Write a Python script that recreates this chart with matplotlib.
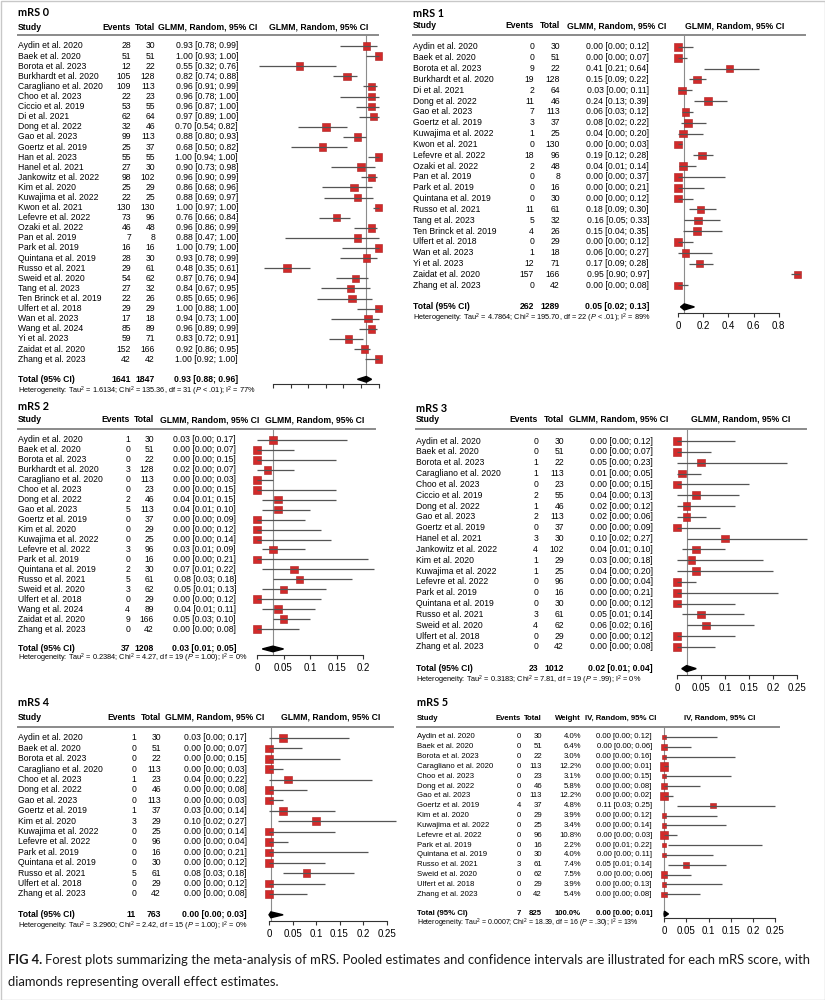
import numpy as np
import matplotlib.pyplot as plt
from matplotlib.transforms import blended_transform_factory
from matplotlib.patches import Rectangle

plt.rcParams['font.family'] = ['Liberation Sans', 'DejaVu Sans']
plt.rcParams['mathtext.fontset'] = 'custom'
plt.rcParams['mathtext.rm'] = 'Liberation Sans'
plt.rcParams['mathtext.it'] = 'Liberation Sans:italic'
plt.rcParams['mathtext.bf'] = 'Liberation Sans:bold'

# ---------------- data ----------------
# mRS 0
studies0 = ["Aydin et al. 2020", "Baek et al. 2020", "Borota et al. 2023", "Burkhardt et al. 2020",
            "Caragliano et al. 2020", "Choo et al. 2023", "Ciccio et al. 2019", "Di et al. 2021",
            "Dong et al. 2022", "Gao et al. 2023", "Goertz et al. 2019", "Han et al. 2023",
            "Hanel et al. 2021", "Jankowitz et al. 2022", "Kim et al. 2020", "Kuwajima et al. 2022",
            "Kwon et al. 2021", "Lefevre et al. 2022", "Ozaki et al. 2022", "Pan et al. 2019",
            "Park et al. 2019", "Quintana et al. 2019", "Russo et al. 2021", "Sweid et al. 2020",
            "Tang et al. 2023", "Ten Brinck et al. 2019", "Ulfert et al. 2018", "Wan et al. 2023",
            "Wang et al. 2024", "Yi et al. 2023", "Zaidat et al. 2020", "Zhang et al. 2023"]
events0 = [28, 51, 12, 105, 109, 22, 53, 62, 32, 99, 25, 55, 27, 98, 25, 22,
           130, 73, 46, 7, 16, 28, 29, 54, 27, 22, 29, 17, 85, 59, 152, 42]
totals0 = [30, 51, 22, 128, 113, 23, 55, 64, 46, 113, 37, 55, 30, 102, 29, 25,
           130, 96, 48, 8, 16, 30, 61, 62, 32, 26, 29, 18, 89, 71, 166, 42]
est0 = [0.93, 1.00, 0.55, 0.82, 0.96, 0.96, 0.96, 0.97, 0.70, 0.88, 0.68, 1.00, 0.90, 0.96, 0.86, 0.88,
        1.00, 0.76, 0.96, 0.88, 1.00, 0.93, 0.48, 0.87, 0.84, 0.85, 1.00, 0.94, 0.96, 0.83, 0.92, 1.00]
lo0 = [0.78, 0.93, 0.32, 0.74, 0.91, 0.78, 0.87, 0.89, 0.54, 0.80, 0.50, 0.94, 0.73, 0.90, 0.68, 0.69,
       0.97, 0.66, 0.86, 0.47, 0.79, 0.78, 0.35, 0.76, 0.67, 0.65, 0.88, 0.73, 0.89, 0.72, 0.86, 0.92]
hi0 = [0.99, 1.00, 0.76, 0.88, 0.99, 1.00, 1.00, 1.00, 0.82, 0.93, 0.82, 1.00, 0.98, 0.99, 0.96, 0.97,
       1.00, 0.84, 0.99, 1.00, 1.00, 0.99, 0.61, 0.94, 0.95, 0.96, 1.00, 1.00, 0.99, 0.91, 0.95, 1.00]
pooled0 = [0.93, 0.88, 0.96]
het0 = "Tau$^2$ = 1.6134; Chi$^2$ = 135.36, df = 31 ($P$ < .01); I$^2$ = 77%"

# mRS 1
studies1 = ["Aydin et al. 2020", "Baek et al. 2020", "Borota et al. 2023", "Burkhardt et al. 2020",
            "Di et al. 2021", "Dong et al. 2022", "Gao et al. 2023", "Goertz et al. 2019",
            "Kuwajima et al. 2022", "Kwon et al. 2021", "Lefevre et al. 2022", "Ozaki et al. 2022",
            "Pan et al. 2019", "Park et al. 2019", "Quintana et al. 2019", "Russo et al. 2021",
            "Tang et al. 2023", "Ten Brinck et al. 2019", "Ulfert et al. 2018", "Wan et al. 2023",
            "Yi et al. 2023", "Zaidat et al. 2020", "Zhang et al. 2023"]
events1 = [0, 0, 9, 19, 2, 11, 7, 3, 1, 0, 18, 2, 0, 0, 0, 11, 5, 4, 0, 1, 12, 157, 0]
totals1 = [30, 51, 22, 128, 64, 46, 113, 37, 25, 130, 96, 48, 8, 16, 30, 61, 32, 26, 29, 18, 71, 166, 42]
est1 = [0.00, 0.00, 0.41, 0.15, 0.03, 0.24, 0.06, 0.08, 0.04, 0.00, 0.19, 0.04,
        0.00, 0.00, 0.00, 0.18, 0.16, 0.15, 0.00, 0.06, 0.17, 0.95, 0.00]
lo1 = [0.00, 0.00, 0.21, 0.09, 0.00, 0.13, 0.03, 0.02, 0.00, 0.00, 0.12, 0.01,
       0.00, 0.00, 0.00, 0.09, 0.05, 0.04, 0.00, 0.00, 0.09, 0.90, 0.00]
hi1 = [0.12, 0.07, 0.64, 0.22, 0.11, 0.39, 0.12, 0.22, 0.20, 0.03, 0.28, 0.14,
       0.37, 0.21, 0.12, 0.30, 0.33, 0.35, 0.12, 0.27, 0.28, 0.97, 0.08]
pooled1 = [0.05, 0.02, 0.13]
het1 = "Tau$^2$ = 4.7864; Chi$^2$ = 195.70, df = 22 ($P$ < .01); I$^2$ = 89%"

# mRS 2
studies2 = ["Aydin et al. 2020", "Baek et al. 2020", "Borota et al. 2023", "Burkhardt et al. 2020",
            "Caragliano et al. 2020", "Choo et al. 2023", "Dong et al. 2022", "Gao et al. 2023",
            "Goertz et al. 2019", "Kim et al. 2020", "Kuwajima et al. 2022", "Lefevre et al. 2022",
            "Park et al. 2019", "Quintana et al. 2019", "Russo et al. 2021", "Sweid et al. 2020",
            "Ulfert et al. 2018", "Wang et al. 2024", "Zaidat et al. 2020", "Zhang et al. 2023"]
events2 = [1, 0, 0, 3, 0, 0, 2, 5, 0, 0, 0, 3, 0, 2, 5, 3, 0, 4, 9, 0]
totals2 = [30, 51, 22, 128, 113, 23, 46, 113, 37, 29, 25, 96, 16, 30, 61, 62, 29, 89, 166, 42]
est2 = [0.03, 0.00, 0.00, 0.02, 0.00, 0.00, 0.04, 0.04, 0.00, 0.00,
        0.00, 0.03, 0.00, 0.07, 0.08, 0.05, 0.00, 0.04, 0.05, 0.00]
lo2 = [0.00, 0.00, 0.00, 0.00, 0.00, 0.00, 0.01, 0.01, 0.00, 0.00,
       0.00, 0.01, 0.00, 0.01, 0.03, 0.01, 0.00, 0.01, 0.03, 0.00]
hi2 = [0.17, 0.07, 0.15, 0.07, 0.03, 0.15, 0.15, 0.10, 0.09, 0.12,
       0.14, 0.09, 0.21, 0.22, 0.18, 0.13, 0.12, 0.11, 0.10, 0.08]
pooled2 = [0.03, 0.01, 0.05]
het2 = "Tau$^2$ = 0.2384; Chi$^2$ = 4.27, df = 19 ($P$ = 1.00); I$^2$ = 0%"

# mRS 3
studies3 = ["Aydin et al. 2020", "Baek et al. 2020", "Borota et al. 2023", "Caragliano et al. 2020",
            "Choo et al. 2023", "Ciccio et al. 2019", "Dong et al. 2022", "Gao et al. 2023",
            "Goertz et al. 2019", "Hanel et al. 2021", "Jankowitz et al. 2022", "Kim et al. 2020",
            "Kuwajima et al. 2022", "Lefevre et al. 2022", "Park et al. 2019", "Quintana et al. 2019",
            "Russo et al. 2021", "Sweid et al. 2020", "Ulfert et al. 2018", "Zhang et al. 2023"]
events3 = [0, 0, 1, 1, 0, 2, 1, 2, 0, 3, 4, 1, 1, 0, 0, 0, 3, 4, 0, 0]
totals3 = [30, 51, 22, 113, 23, 55, 46, 113, 37, 30, 102, 29, 25, 96, 16, 30, 61, 62, 29, 42]
est3 = [0.00, 0.00, 0.05, 0.01, 0.00, 0.04, 0.02, 0.02, 0.00, 0.10,
        0.04, 0.03, 0.04, 0.00, 0.00, 0.00, 0.05, 0.06, 0.00, 0.00]
lo3 = [0.00, 0.00, 0.00, 0.00, 0.00, 0.00, 0.00, 0.00, 0.00, 0.02,
       0.01, 0.00, 0.00, 0.00, 0.00, 0.00, 0.01, 0.02, 0.00, 0.00]
hi3 = [0.12, 0.07, 0.23, 0.05, 0.15, 0.13, 0.12, 0.06, 0.09, 0.27,
       0.10, 0.18, 0.20, 0.04, 0.21, 0.12, 0.14, 0.16, 0.12, 0.08]
pooled3 = [0.02, 0.01, 0.04]
het3 = "Tau$^2$ = 0.3183; Chi$^2$ = 7.81, df = 19 ($P$ = .99); I$^2$ = 0%"

# mRS 4
studies4 = ["Aydin et al. 2020", "Baek et al. 2020", "Borota et al. 2023", "Caragliano et al. 2020",
            "Choo et al. 2023", "Dong et al. 2022", "Gao et al. 2023", "Goertz et al. 2019",
            "Kim et al. 2020", "Kuwajima et al. 2022", "Lefevre et al. 2022", "Park et al. 2019",
            "Quintana et al. 2019", "Russo et al. 2021", "Ulfert et al. 2018", "Zhang et al. 2023"]
events4 = [1, 0, 0, 0, 1, 0, 0, 1, 3, 0, 0, 0, 0, 5, 0, 0]
totals4 = [30, 51, 22, 113, 23, 46, 113, 37, 29, 25, 96, 16, 30, 61, 29, 42]
est4 = [0.03, 0.00, 0.00, 0.00, 0.04, 0.00, 0.00, 0.03, 0.10, 0.00, 0.00, 0.00, 0.00, 0.08, 0.00, 0.00]
lo4 = [0.00, 0.00, 0.00, 0.00, 0.00, 0.00, 0.00, 0.00, 0.02, 0.00, 0.00, 0.00, 0.00, 0.03, 0.00, 0.00]
hi4 = [0.17, 0.07, 0.15, 0.03, 0.22, 0.08, 0.03, 0.14, 0.27, 0.14, 0.04, 0.21, 0.12, 0.18, 0.12, 0.08]
pooled4 = [0.004, 0.00, 0.03]
het4 = "Tau$^2$ = 3.2960; Chi$^2$ = 2.42, df = 15 ($P$ = 1.00); I$^2$ = 0%"

# mRS 5
studies5 = ["Aydin et al. 2020", "Baek et al. 2020", "Borota et al. 2023", "Caragliano et al. 2020",
            "Choo et al. 2023", "Dong et al. 2022", "Gao et al. 2023", "Goertz et al. 2019",
            "Kim et al. 2020", "Kuwajima et al. 2022", "Lefevre et al. 2022", "Park et al. 2019",
            "Quintana et al. 2019", "Russo et al. 2021", "Sweid et al. 2020", "Ulfert et al. 2018",
            "Zhang et al. 2023"]
events5 = [0, 0, 0, 0, 0, 0, 0, 4, 0, 0, 0, 0, 0, 3, 0, 0, 0]
totals5 = [30, 51, 22, 113, 23, 46, 113, 37, 29, 25, 96, 16, 30, 61, 62, 29, 42]
weights5 = [4.0, 6.4, 3.0, 12.2, 3.1, 5.8, 12.2, 4.8, 3.9, 3.4, 10.8, 2.2, 4.0, 7.4, 7.5, 3.9, 5.4]
est5 = [0.00, 0.00, 0.00, 0.00, 0.00, 0.00, 0.00, 0.11, 0.00, 0.00, 0.00, 0.00, 0.00, 0.05, 0.00, 0.00, 0.00]
lo5 = [0.00, 0.00, 0.00, 0.00, 0.00, 0.00, 0.00, 0.03, 0.00, 0.00, 0.00, 0.01, 0.00, 0.01, 0.00, 0.00, 0.00]
hi5 = [0.12, 0.06, 0.16, 0.01, 0.15, 0.08, 0.02, 0.25, 0.12, 0.14, 0.03, 0.22, 0.11, 0.14, 0.06, 0.13, 0.08]
pooled5 = [0.001, 0.00, 0.01]
het5 = "Tau$^2$ = 0.0007; Chi$^2$ = 18.39, df = 16 ($P$ = .30); I$^2$ = 13%"

caption_bold = "FIG 4."
caption_line1 = ("Forest plots summarizing the meta-analysis of mRS. Pooled estimates and confidence "
                 "intervals are illustrated for each mRS score, with")
caption_line2 = "diamonds representing overall effect estimates."

# ---------------- layout (pixels) ----------------
W, H = 825, 1000
fig = plt.figure(figsize=(W / 100, H / 100), dpi=100)
cap_font = ['Lato', 'Open Sans', 'DejaVu Sans']

RED = '#d22a2a'
RED_EDGE = '#a81e1e'
LINE = '#555555'
INK = '#000000'
FS = 6.2


def draw_panel(title, studies, events, totals, est, lo, hi, pooled, het, lay, weights=None):
    n = len(studies)
    row = lambda y: (y - lay['row0']) / lay['dy']
    xa = lay['x0'] - 10
    xb = max(lay['hline_x1'], lay['x0'] + (lay['hi'] - lay['lo']) * lay['ppu']) + 4
    ax = fig.add_axes([xa / W, 1 - lay['axis_y'] / H, (xb - xa) / W,
                       (lay['axis_y'] - lay['hline_y']) / H])
    ax.patch.set_alpha(0)
    ax.set_ylim(row(lay['axis_y']), row(lay['hline_y']))
    ax.set_xlim(lay['lo'] + (xa - lay['x0']) / lay['ppu'], lay['lo'] + (xb - lay['x0']) / lay['ppu'])
    for s in ['top', 'left', 'right']:
        ax.spines[s].set_visible(False)
    ax.spines['bottom'].set_bounds(lay['lo'], lay['hi'])
    ax.spines['bottom'].set_color('#333333')
    ax.spines['bottom'].set_linewidth(0.8)
    ticks = np.arange(lay['lo'], lay['hi'] + lay['step'] / 2, lay['step'])
    ax.set_xticks(ticks)
    ax.set_xticklabels(['%g' % round(t, 3) for t in ticks])
    ax.tick_params(axis='x', direction='out', length=3, width=0.8, color='#333333',
                   labelsize=7, pad=3, labelcolor=INK, labelbottom=lay['labels'])
    ax.set_yticks([])

    fs = lay.get('fs', FS)
    y = np.arange(n)
    if weights is None:
        sizes = np.full(n, 5.4) ** 2
    else:
        sizes = (1.7 * np.sqrt(np.array(weights))) ** 2
    ax.axvline(pooled[0], color='#8c8c8c', lw=0.8, zorder=1)
    ax.scatter(est, y, s=sizes, marker='s', color=RED, edgecolors=RED_EDGE, linewidths=0.4,
               zorder=3, clip_on=False)
    ax.hlines(y, lo, hi, color=LINE, lw=0.9, zorder=4, clip_on=False)
    yt = n + 1
    ax.fill([pooled[1], pooled[0], pooled[2], pooled[0]], [yt, yt - 0.28, yt, yt + 0.28],
            color='black', zorder=5, clip_on=False)

    T = blended_transform_factory(fig.transFigure, ax.transData)
    X = lambda p: p / W
    kw = dict(transform=T, va='center', fontsize=fs, color=INK)
    ax.text(X(lay['study_x']), row(lay['title_y']), title, transform=T, va='center',
            fontsize=7.8, fontweight='bold', family=cap_font, color=INK)
    hb = dict(kw, fontweight='bold')
    ax.text(X(lay['study_x']), row(lay['head_y']), 'Study', ha='left', **hb)
    ax.text(X(lay['ev_r']), row(lay['head_y']), 'Events', ha='right', **hb)
    ax.text(X(lay['tot_r']), row(lay['head_y']), 'Total', ha='right', **hb)
    method = 'GLMM, Random, 95% CI' if weights is None else 'IV, Random, 95% CI'
    if weights is not None:
        ax.text(X(lay['w_r']), row(lay['head_y']), 'Weight', ha='right', **hb)
    ax.text(X(lay['est_hc']), row(lay['head_y']), method, ha='center', **hb)
    ax.text(X(lay['graph_hc']), row(lay['head_y']), method, ha='center', **hb)
    ax.plot([X(lay['study_x']), X(lay['hline_x1'])], [row(lay['hline_y'])] * 2, transform=T,
            color='#8a8a8a', lw=1.4, clip_on=False, zorder=2)

    for i in range(n):
        ax.text(X(lay['study_x']), i, studies[i], ha='left', **kw)
        ax.text(X(lay['ev_r']), i, str(events[i]), ha='right', **kw)
        ax.text(X(lay['tot_r']), i, str(totals[i]), ha='right', **kw)
        if weights is not None:
            ax.text(X(lay['w_r']), i, '%.1f%%' % weights[i], ha='right', **kw)
        ax.text(X(lay['est_r']), i, '%.2f [%.2f; %.2f]' % (est[i], lo[i], hi[i]), ha='right', **kw)

    ax.text(X(lay['study_x']), yt, 'Total (95% CI)', ha='left', **hb)
    ax.text(X(lay['ev_r']), yt, str(sum(events)), ha='right', **hb)
    ax.text(X(lay['tot_r']), yt, str(sum(totals)), ha='right', **hb)
    if weights is not None:
        ax.text(X(lay['w_r']), yt, '%.1f%%' % sum(weights), ha='right', **hb)
    ax.text(X(lay['est_r']), yt, '%.2f [%.2f; %.2f]' % tuple(pooled), ha='right', **hb)
    ax.text(X(lay['study_x']), row(lay['het_y']), 'Heterogeneity: ' + het, transform=T,
            va='center', fontsize=lay.get('het_fs', 5.3), color=INK)
    return ax


lay0 = dict(title_y=13, head_y=27, hline_y=35, row0=46, dy=10.1, het_y=391, axis_y=384,
            study_x=18, ev_r=131, tot_r=155, est_r=238, est_hc=208, graph_hc=319, hline_x1=378,
            lo=0.4, hi=1.0, step=0.1, x0=273, ppu=176, labels=False)
lay1 = dict(title_y=14, head_y=26, hline_y=35, row0=47, dy=10.83, het_y=318, axis_y=313,
            study_x=413, ev_r=534, tot_r=560, est_r=649, est_hc=617, graph_hc=735, hline_x1=805,
            lo=0.0, hi=0.8, step=0.2, x0=678, ppu=126, labels=True)
lay2 = dict(title_y=407, head_y=420, hline_y=429, row0=440, dy=9.95, het_y=658, axis_y=655,
            study_x=18, ev_r=130, tot_r=154, est_r=236, est_hc=210, graph_hc=315, hline_x1=375,
            lo=0.0, hi=0.2, step=0.05, x0=257, ppu=530, labels=True)
lay3 = dict(title_y=408, head_y=419, hline_y=429, row0=441, dy=10.84, het_y=680, axis_y=675,
            study_x=416, ev_r=538, tot_r=564, est_r=653, est_hc=619, graph_hc=741, hline_x1=806,
            lo=0.0, hi=0.25, step=0.05, x0=677, ppu=480, labels=True)
lay4 = dict(title_y=702, head_y=717, hline_y=727, row0=738, dy=10.4, het_y=926, axis_y=921,
            study_x=18, ev_r=136, tot_r=161, est_r=247, est_hc=215, graph_hc=331, hline_x1=393,
            lo=0.0, hi=0.25, step=0.05, x0=269, ppu=470, labels=True)
lay5 = dict(title_y=702, head_y=718, hline_y=727, row0=737, dy=9.83, het_y=923, axis_y=918,
            study_x=417, ev_r=521, tot_r=542, w_r=581, est_r=652, est_hc=621, graph_hc=720,
            hline_x1=779, lo=0.0, hi=0.25, step=0.05, x0=664, ppu=445, labels=True,
            fs=5.6, het_fs=5.0)

draw_panel('mRS 0', studies0, events0, totals0, est0, lo0, hi0, pooled0, het0, lay0)
draw_panel('mRS 1', studies1, events1, totals1, est1, lo1, hi1, pooled1, het1, lay1)
draw_panel('mRS 2', studies2, events2, totals2, est2, lo2, hi2, pooled2, het2, lay2)
draw_panel('mRS 3', studies3, events3, totals3, est3, lo3, hi3, pooled3, het3, lay3)
draw_panel('mRS 4', studies4, events4, totals4, est4, lo4, hi4, pooled4, het4, lay4)
draw_panel('mRS 5', studies5, events5, totals5, est5, lo5, hi5, pooled5, het5, lay5, weights=weights5)

# caption, sized to span the page width
renderer = fig.canvas.get_renderer()
probe = fig.text(0, 0, caption_bold + ' ' + caption_line1, fontsize=10, family=cap_font)
w10 = probe.get_window_extent(renderer).width
probe.remove()
cap_fs = 10 * 805 / w10
t1 = fig.text(8 / W, 1 - 960 / H, caption_bold, fontsize=cap_fs, fontweight='bold',
              family=cap_font, va='center', color='#1a1a1a')
wb = t1.get_window_extent(renderer).width
fig.text((8 + wb + cap_fs * 0.3) / W, 1 - 960 / H, caption_line1, fontsize=cap_fs,
         family=cap_font, va='center', color='#1a1a1a')
fig.text(8 / W, 1 - 982 / H, caption_line2, fontsize=cap_fs, family=cap_font,
         va='center', color='#1a1a1a')

fig.patches.append(Rectangle((0.5 / W, 0.5 / H), 1 - 1 / W, 1 - 1 / H, transform=fig.transFigure,
                             fill=False, edgecolor='#c8c8c8', lw=1))

fig.savefig('out.png', dpi=100, facecolor='white')
